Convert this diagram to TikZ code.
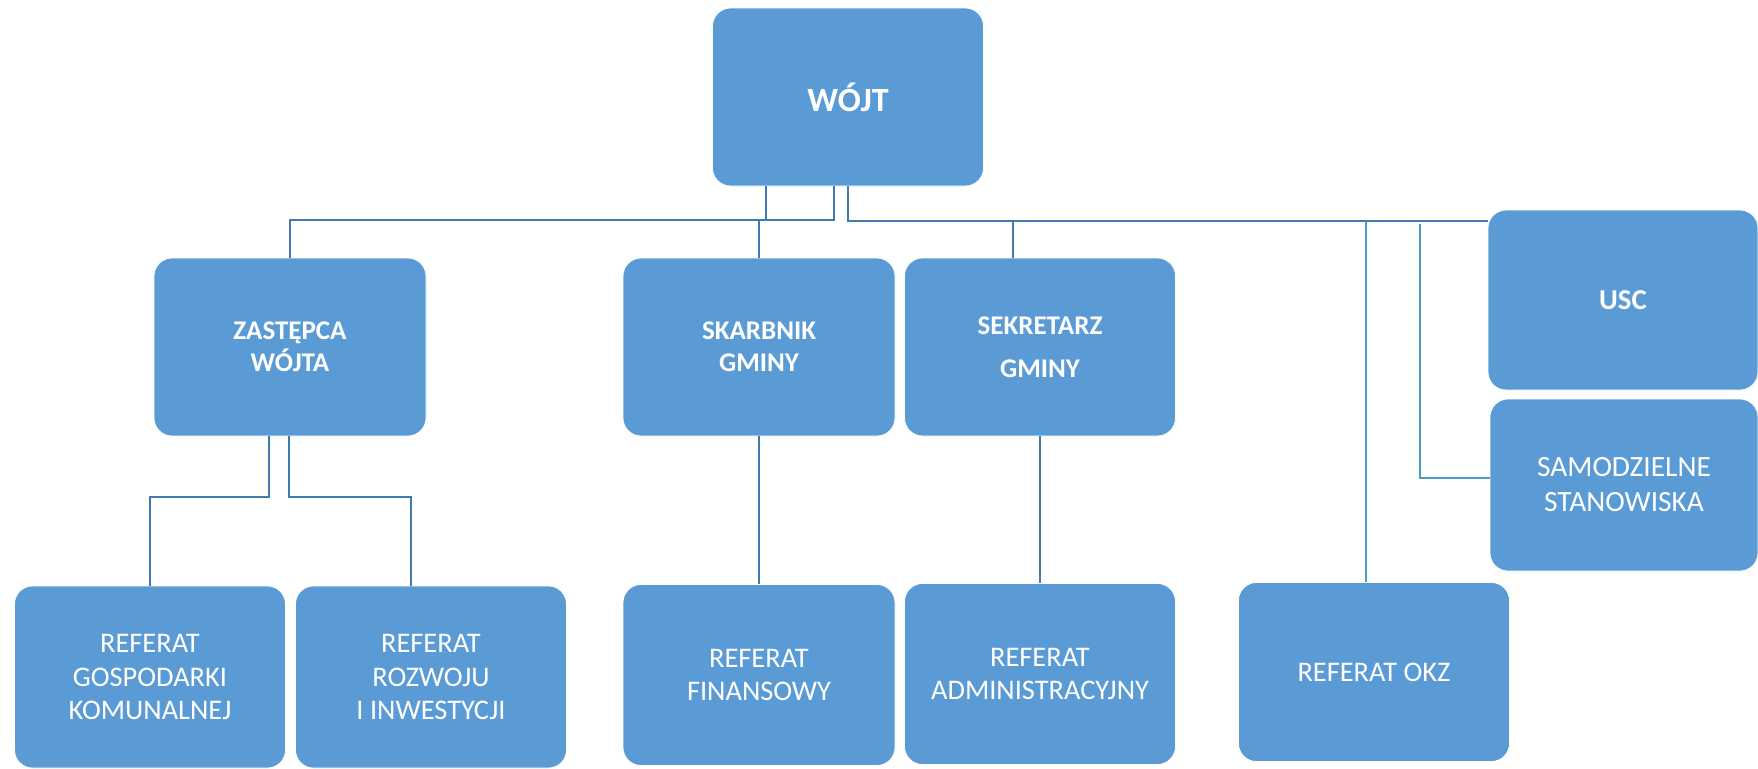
\documentclass[tikz,border=0pt]{standalone}
\usepackage{fontspec}
\setmainfont{Carlito}
\definecolor{boxblue}{HTML}{5B9BD5}
\definecolor{linedark}{HTML}{3F7AB0}
\definecolor{linelight}{HTML}{4A9CC8}
\begin{document}
\begin{tikzpicture}[x=0.5pt,y=-0.5pt,
  box/.style={fill=boxblue,draw=white,line width=0.4pt,rounded corners=9pt,text=white,align=center,inner sep=0pt},
  conn/.style={draw=linedark,line width=0.9pt},
  connl/.style={draw=linelight,line width=0.7pt},
  reg/.style={font=\fontsize{14.2}{16.8}\selectfont},
  bld/.style={font=\bfseries\fontsize{13.5}{16}\selectfont}]
\useasboundingbox (0,0) rectangle (1758,768);
% boxes
\node[box,minimum width=271*0.5pt,minimum height=178*0.5pt,font=\bfseries\fontsize{17}{20}\selectfont] (wojt) at (848,97) {WÓJT};
\node[box,minimum width=272*0.5pt,minimum height=178*0.5pt,bld] (zast) at (290,347) {ZASTĘPCA\\WÓJTA};
\node[box,minimum width=272*0.5pt,minimum height=178*0.5pt,bld] (skarb) at (759,347) {SKARBNIK\\GMINY};
\node[box,minimum width=271*0.5pt,minimum height=178*0.5pt,font=\bfseries\fontsize{13.5}{21.5}\selectfont] (sek) at (1040,347) {SEKRETARZ\\GMINY};
\node[box,minimum width=270*0.5pt,minimum height=180*0.5pt,font=\bfseries\fontsize{14.4}{17}\selectfont] (usc) at (1623,300) {USC};
\node[box,minimum width=268*0.5pt,minimum height=172*0.5pt,font=\fontsize{14.7}{17.5}\selectfont] (samo) at (1624,485) {SAMODZIELNE\\STANOWISKA};
\node[box,minimum width=271*0.5pt,minimum height=182*0.5pt,reg] (gosp) at (150,677) {REFERAT\\GOSPODARKI\\KOMUNALNEJ};
\node[box,minimum width=271*0.5pt,minimum height=182*0.5pt,reg] (rozw) at (431,677) {REFERAT\\ROZWOJU\\I INWESTYCJI};
\node[box,minimum width=272*0.5pt,minimum height=181*0.5pt,reg] (fin) at (759,675) {REFERAT\\FINANSOWY};
\node[box,minimum width=271*0.5pt,minimum height=181*0.5pt,reg] (adm) at (1040,674) {REFERAT\\ADMINISTRACYJNY};
\node[box,minimum width=271*0.5pt,minimum height=179*0.5pt,reg] (okz) at (1374,672) {REFERAT OKZ};
% junction coordinates
\coordinate (jA) at (766,220);
\coordinate (jL) at (834,220);
\coordinate (jR) at (848,221);
\coordinate (jS) at (1013,221);
\coordinate (jO) at (1366,221);
\coordinate (jM) at (1420,224);
\coordinate (jMs) at (1420,478);
\coordinate (zA) at (269,497);
\coordinate (zB) at (289,497);
\coordinate (zG) at (150,497);
\coordinate (zR) at (411,497);
% top connectors
\draw[conn] (wojt.south -| jA) -- (jA);
\draw[conn] (wojt.south -| jL) -- (jL) -| (zast.north);
\draw[conn] (skarb.north |- jL) -- (skarb.north);
\draw[conn] (wojt.south) -- (jR) -- (usc.west |- jR);
\draw[conn] (jS) -- (jS |- sek.north);
\draw[connl] (jO) -- (jO |- okz.north);
\draw[connl] (jM) -- (jMs) -- (samo.west |- jMs);
% lower connectors
\draw[conn] (zast.south -| zA) -- (zA) -- (zG) -- (gosp.north);
\draw[conn] (zast.south -| zB) -- (zB) -- (zR) -- (zR |- rozw.north);
\draw[conn] (skarb.south) -- (fin.north);
\draw[conn] (sek.south) -- (adm.north);
\end{tikzpicture}
\end{document}
